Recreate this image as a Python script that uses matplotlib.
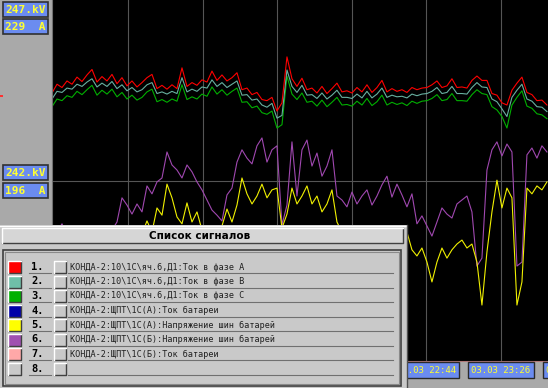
import numpy as np
import matplotlib.pyplot as plt
from matplotlib.patches import Rectangle

# время, мин от полуночи 03.03
t_start = 1153.2
t_end = 1431.9
t_right = 1432.5

# ток в фазах, А
red_a = [212.0, 213.6, 213.0, 214.2, 213.6, 214.9, 214.1, 215.3, 216.3, 214.0,
         215.0, 214.2, 215.4, 213.7, 214.8, 213.3, 214.2, 213.1, 213.9, 214.8,
         215.4, 212.8, 213.4, 212.7, 213.5, 212.8, 216.6, 213.2, 213.9, 213.4,
         214.4, 214.0, 216.0, 214.3, 215.3, 214.2, 214.8, 215.7, 212.6, 212.9,
         211.7, 212.1, 210.8, 210.6, 211.2, 208.7, 210.2, 218.6, 214.6, 213.2,
         214.7, 212.6, 212.9, 212.0, 213.2, 211.9, 212.8, 213.8, 212.2, 212.4,
         212.0, 213.0, 212.2, 213.5, 212.1, 213.0, 214.3, 212.2, 212.8, 212.3,
         212.6, 212.1, 213.0, 212.6, 212.9, 213.0, 213.5, 214.2, 213.0, 213.3,
         214.6, 213.0, 213.1, 212.9, 214.3, 215.1, 214.3, 214.3, 211.9, 211.6,
         210.2, 209.8, 212.5, 213.8, 214.9, 212.1, 211.7, 210.6, 210.7, 209.8]
teal_b = [210.9, 212.3, 212.1, 212.9, 212.7, 213.6, 213.2, 214.0, 214.6, 213.1,
          213.8, 213.2, 214.1, 212.8, 213.5, 212.4, 213.0, 212.2, 212.6, 213.5,
          213.9, 211.9, 212.2, 211.8, 212.3, 211.9, 214.8, 212.2, 212.7, 212.3,
          213.1, 212.9, 214.4, 213.2, 213.9, 213.0, 213.6, 214.2, 211.6, 211.7,
          210.7, 210.9, 209.8, 209.4, 210.1, 207.4, 207.9, 216.2, 213.2, 212.1,
          213.4, 211.6, 211.7, 211.0, 212.0, 210.9, 211.6, 212.5, 211.2, 211.2,
          211.0, 211.8, 211.1, 212.3, 211.1, 211.8, 212.9, 211.2, 211.6, 211.3,
          211.4, 211.1, 211.8, 211.5, 211.8, 211.9, 212.3, 213.0, 211.9, 212.1,
          213.2, 211.9, 211.9, 211.8, 213.0, 213.9, 213.1, 213.0, 210.9, 210.4,
          209.1, 207.7, 211.2, 212.5, 213.6, 210.9, 210.5, 209.5, 209.4, 208.6]
green_c = [209.5, 210.9, 210.6, 211.5, 211.2, 212.3, 211.7, 212.6, 213.4, 211.6,
           212.5, 211.8, 212.7, 211.3, 212.1, 210.9, 211.6, 210.7, 211.2, 212.2,
           212.7, 210.4, 210.8, 210.3, 210.9, 210.5, 213.5, 210.8, 211.3, 210.9,
           211.8, 211.4, 213.1, 211.8, 212.6, 211.6, 212.3, 212.9, 210.3, 210.4,
           209.3, 209.6, 208.4, 208.1, 208.7, 205.6, 206.2, 215.1, 211.8, 210.8,
           212.0, 210.3, 210.5, 209.6, 210.7, 209.5, 210.3, 211.2, 209.8, 209.9,
           209.6, 210.5, 209.8, 211.0, 209.7, 210.4, 211.6, 209.8, 210.3, 209.9,
           210.2, 209.7, 210.5, 210.1, 210.5, 210.6, 211.0, 211.7, 210.6, 210.8,
           211.9, 210.6, 210.6, 210.5, 211.7, 212.6, 211.9, 211.7, 209.5, 208.9,
           207.7, 205.6, 209.8, 211.2, 212.4, 209.6, 209.2, 208.2, 208.0, 207.3]

# напряжение шин батарей
purple_v = [240.35, 240.57, 240.80, 240.46, 240.30, 240.41, 240.21, 240.35, 240.46, 240.30,
            240.41, 240.55, 240.63, 240.85, 241.52, 241.32, 241.07, 241.35, 241.13, 241.85,
            241.63, 241.96, 242.07, 242.79, 242.43, 242.29, 242.07, 242.43, 242.24, 241.96,
            241.74, 241.46, 241.18, 241.04, 240.88, 241.60, 241.79, 242.51, 242.85, 242.62,
            242.46, 242.96, 243.18, 242.51, 242.85, 242.96, 240.77, 241.32, 243.07, 241.57,
            242.85, 243.12, 242.40, 242.76, 242.12, 242.40, 242.85, 241.57, 241.46, 241.27,
            241.68, 241.35, 241.57, 241.74, 241.32, 241.57, 241.88, 242.12, 241.54, 241.90,
            241.60, 241.27, 241.63, 240.80, 241.02, 240.74, 240.46, 240.85, 241.24, 241.07,
            240.96, 241.35, 241.46, 241.57, 241.13, 239.63, 239.85, 242.29, 242.85, 243.07,
            242.68, 243.01, 242.79, 239.63, 239.74, 242.71, 242.90, 242.62, 242.96, 242.79]
yellow_v = [240.08, 240.21, 239.94, 240.13, 239.80, 240.02, 239.85, 240.10, 239.74, 239.94,
            240.08, 239.85, 240.19, 240.02, 240.24, 240.08, 240.41, 240.21, 240.52, 240.88,
            240.57, 241.24, 241.04, 241.90, 241.52, 240.99, 240.80, 241.38, 240.85, 241.13,
            240.63, 240.46, 240.35, 240.57, 240.74, 241.21, 240.85, 241.32, 242.07, 241.63,
            241.35, 241.57, 241.90, 241.52, 241.74, 241.79, 240.68, 241.07, 241.79, 241.35,
            241.57, 241.85, 241.35, 241.57, 241.13, 241.35, 241.74, 240.85, 240.57, 240.35,
            240.46, 240.21, 240.41, 240.08, 240.30, 240.13, 240.35, 240.19, 240.46, 240.63,
            240.68, 240.57, 240.08, 239.91, 240.13, 239.74, 239.19, 239.74, 240.13, 239.85,
            240.08, 240.24, 240.35, 240.13, 240.24, 239.74, 238.55, 240.02, 241.13, 242.01,
            241.24, 241.79, 241.52, 238.55, 239.19, 241.79, 241.63, 241.85, 241.74, 241.96]

grid_times = [1196, 1238, 1280, 1322, 1364, 1406, 1448]
time_labels = ['03.03 19:56', '03.03 20:38', '03.03 21:20', '03.03 22:02',
               '03.03 22:44', '03.03 23:26', '04.03 00:08']
scale_labels = ['247.kV', '229  A', '242.kV', '196  A']

signals = [r'КОНДА-2:10\1С\яч.6,Д1:Ток в фазе А',
           r'КОНДА-2:10\1С\яч.6,Д1:Ток в фазе В',
           r'КОНДА-2:10\1С\яч.6,Д1:Ток в фазе С',
           r'КОНДА-2:ЩПТ\1С(А):Ток батареи',
           r'КОНДА-2:ЩПТ\1С(А):Напряжение шин батарей',
           r'КОНДА-2:ЩПТ\1С(Б):Напряжение шин батарей',
           r'КОНДА-2:ЩПТ\1С(Б):Ток батареи',
           '']
signal_colors = ['#ff0000', '#6fbfa8', '#00b000', '#0000a8',
                 '#ffff00', '#a050b0', '#ffa8a8', '#c9c9c9']

mono = 'DejaVu Sans Mono'
t = np.linspace(t_start, t_end, len(red_a))

fig = plt.figure(figsize=(5.48, 3.88), dpi=100, facecolor='#a9a9a9')

# график
ax = fig.add_axes([52/548, 27/388, 496/548, 361/388], facecolor='black')
ax.set_xlim(t_start, t_right)
ax.set_ylim(163, 229)
ax.set_xticks(grid_times[:6])
ax.set_yticks([196])
ax.grid(color='#555555', lw=0.8)
ax.tick_params(length=0, labelleft=False, labelbottom=False)
for s in ['top', 'right']:
    ax.spines[s].set_visible(False)
ax.spines['left'].set_color('#707070')
ax.spines['bottom'].set_color('#b07878')

ax2 = ax.twinx()
ax2.set_ylim(237, 247)
ax2.tick_params(length=0, labelright=False)
for s in ax2.spines.values():
    s.set_visible(False)

ax2.plot(t, purple_v, color='#a048b0', lw=0.8)
ax2.plot(t, yellow_v, color='#f0f000', lw=0.8)
ax.plot(t, green_c, color='#00b000', lw=0.8)
ax.plot(t, teal_b, color='#68b0a0', lw=0.8)
ax.plot(t, red_a, color='#ff0000', lw=0.8)

# подписи времени
for tm, lab in zip(grid_times, time_labels):
    ax.text(tm, -0.025, lab, transform=ax.get_xaxis_transform(), ha='center', va='center',
            fontsize=6.5, family=mono, color='#ffff30', clip_on=False,
            bbox=dict(boxstyle='square,pad=0.35', fc='#6b8cf0', ec='#2a2a2a', lw=1))

# оверлей в пикселях
ov = fig.add_axes([0, 0, 1, 1], zorder=10)
ov.axis('off')


def bevel(x, y, w, h, fc):
    ov.add_patch(Rectangle((x, y), w, h, fc=fc, ec='none'))
    ov.plot([x, x + w, x + w], [y + h, y + h, y], color='#404040', lw=1)
    ov.plot([x, x, x + w], [y + h, y, y], color='white', lw=1)


# шкалы слева
for lab, top in zip(scale_labels, [2, 19, 165, 183]):
    ov.add_patch(Rectangle((3, top), 45, 15, fc='#6b8cf0', ec='#303030', lw=1.2))
    ov.text(25.5, top + 7.8, lab, ha='center', va='center', fontsize=8,
            family=mono, weight='bold', color='#ffff30')
ov.add_patch(Rectangle((0, 95), 3, 1.5, fc='#ff3030', ec='none'))

# окно "Список сигналов"
ov.add_patch(Rectangle((0, 225), 407, 163, fc='#c9c9c9', ec='none'))
ov.plot([0, 406], [225.5, 225.5], color='white', lw=1)
ov.plot([406.5, 406.5], [225, 388], color='#505050', lw=1)
bevel(2, 228, 401, 15, '#d6d6d6')
ov.text(200, 236, 'Список сигналов', ha='center', va='center', fontsize=7.5, weight='bold')
ov.add_patch(Rectangle((2.5, 249.5), 398, 136, fc='#c9c9c9', ec='#404040', lw=1.2))
ov.add_patch(Rectangle((4.5, 251.5), 394, 132, fc='none', ec='#8a8a8a', lw=0.8))

for i, (name, col) in enumerate(zip(signals, signal_colors)):
    yc = 267 + 14.5 * i
    bevel(8, yc - 6, 13, 12, col)
    ov.text(31, yc, f'{i + 1}.', va='center', fontsize=7.5, family=mono, weight='bold')
    ov.plot([29, 51], [yc + 6, yc + 6], color='#707070', lw=0.8)
    bevel(54, yc - 6, 12, 12, '#c9c9c9')
    ov.text(70, yc, name, va='center', fontsize=6.1, family=mono, color='#202020')
    ov.plot([68, 393], [yc + 6, yc + 6], color='#707070', lw=0.8)

ov.set_xlim(0, 548)
ov.set_ylim(388, 0)

fig.savefig('out.png', dpi=100, facecolor=fig.get_facecolor())
